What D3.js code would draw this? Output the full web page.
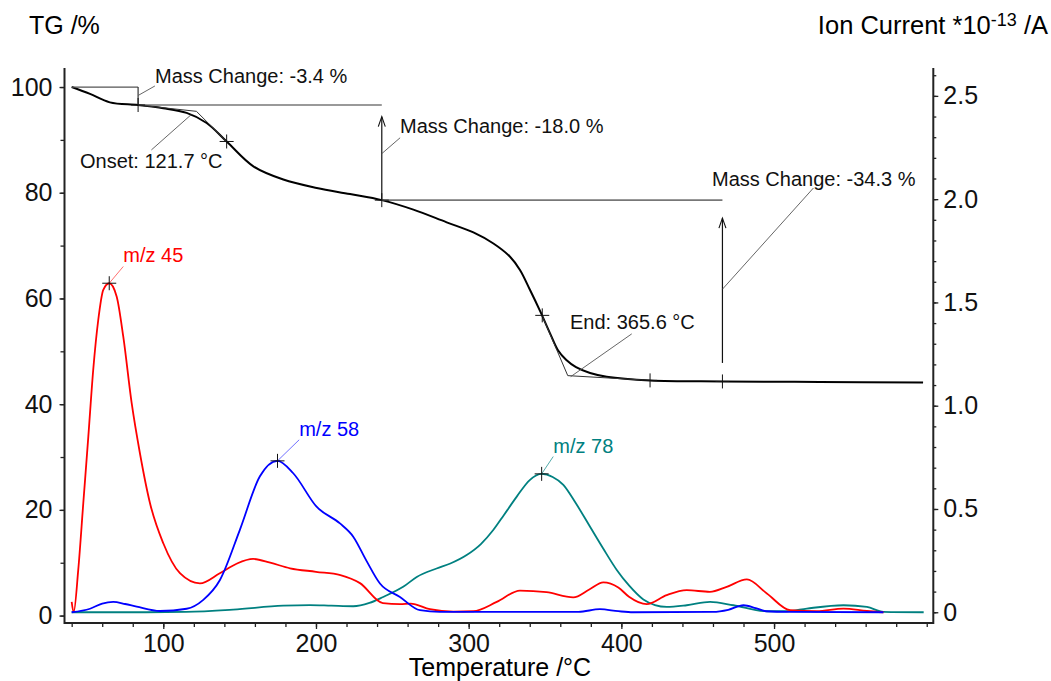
<!DOCTYPE html>
<html>
<head>
<meta charset="utf-8">
<script src="https://cdn.jsdelivr.net/npm/d3@7.9.0/dist/d3.min.js"></script>
<style>
  body { margin: 0; background: #fff; }
  svg { display: block; font-family: "Liberation Sans", Arial, sans-serif; }
</style>
</head>
<body>
<svg width="1051" height="681"></svg>
<script>
// TG curve, [temperature °C, mass %]
const tg = [[40,100],[52,98.7],[65,97.1],[83.5,96.6],[100,96.0],[115.3,95.1],[128.4,93.2],[141.5,89.7],
  [159,85.0],[178.6,82.5],[200.5,80.9],[222.3,79.75],[243.1,78.6],[263.8,76.8],[285.6,74.4],[303.1,72.5],
  [316.2,70.4],[327.1,67.9],[333.6,65.4],[340.2,61.6],[346.8,57.6],[353.3,53.4],[358.5,50.2],[363.8,48.4],
  [370.3,47.0],[379.5,45.9],[390.4,45.2],[418.8,44.5],[466.2,44.3],[530,44.2],[597.6,44.1]];

// ion currents, [temperature °C, current *1e-13 A]
const mz45 = [[40,0.05],[41.3,0],[44.3,0.205],[47.6,0.528],[50.9,0.85],[54.1,1.173],[57.4,1.415],[60.7,1.561],
  [64.6,1.593],[69.5,1.528],[73.8,1.334],[79.3,1.012],[84.7,0.77],[91.3,0.528],[100,0.334],[110.9,0.189],
  [124,0.14],[137,0.189],[148,0.235],[158.8,0.258],[170,0.24],[183,0.213],[200,0.196],[216,0.18],[228.8,0.141],
  [243.8,0.044],[255,0.039],[262,0.042],[274.6,0.015],[290,0.003],[303,0.005],[318.4,0.05],[333.6,0.105],
  [351,0.097],[368.5,0.072],[379,0.11],[388.2,0.145],[398,0.12],[405,0.075],[416.6,0.039],[429.7,0.083],
  [442.8,0.107],[458,0.099],[469,0.123],[482.2,0.159],[495.3,0.091],[510.5,0.01],[528,0.005],[545.5,0.018],
  [560.8,0.006],[571.7,0]];
const mz58 = [[40,0],[52,0.017],[60,0.042],[67.2,0.05],[75,0.04],[82.6,0.027],[97.8,0.006],[115.3,0.017],
  [126.2,0.06],[137.1,0.156],[150.1,0.398],[163.2,0.657],[174.8,0.733],[185.1,0.673],[200.4,0.511],
  [215.7,0.43],[224.4,0.366],[233,0.25],[241.9,0.139],[255,0.074],[268.1,0.01],[281.2,0.002],[300,0.002],[340,0.002],
  [372,0.002],[386,0.015],[398,0.005],[407.7,0],[460,0.002],[470,0.012],[480,0.034],[488,0.02],[495,0.005],
  [510,0.002],[571.6,0]];
const mz78 = [[40,0],[80,0],[115,0.002],[145.7,0.013],[178.5,0.032],[196,0.035],[210,0.032],[224.4,0.029],
  [235,0.045],[244,0.074],[257.1,0.123],[266,0.171],[279,0.212],[288,0.236],[298.7,0.277],[308,0.33],
  [316.1,0.398],[323,0.47],[331.5,0.56],[340,0.64],[347.8,0.67],[355,0.655],[362,0.617],[370,0.53],
  [379.5,0.414],[388,0.31],[397,0.205],[405,0.13],[414.4,0.062],[422,0.035],[429.7,0.026],[442.8,0.034],
  [458.1,0.05],[473.4,0.034],[495.3,0.005],[508.4,0.005],[521.5,0.018],[545.5,0.034],[560.8,0.026],
  [571.7,0.002],[598,0]];

const xTicks = [100, 200, 300, 400, 500];
const tgTicks = [0, 20, 40, 60, 80, 100];
const ionTicks = [0, 0.5, 1, 1.5, 2, 2.5];

const svg = d3.select('svg');
const pLeft = 64.5, pRight = 933.3, pTop = 68, pBottom = 623;

const x = d3.scaleLinear().domain([35.3, 604.3]).range([pLeft, pRight]);
const yL = d3.scaleLinear().domain([-1.4, 103.6]).range([pBottom, pTop]);
const yR = d3.scaleLinear().domain([-0.052, 2.635]).range([pBottom, pTop]);

const fs = 25;

// axes
const styleAxis = g => {
  g.select('.domain').remove();
  g.selectAll('line').attr('stroke', '#222').attr('stroke-width', 1.3);
  g.selectAll('text').attr('font-size', fs).attr('fill', '#111').attr('font-family', 'Liberation Sans, Arial');
};

svg.append('g').attr('transform', `translate(0,${pBottom})`)
  .call(d3.axisBottom(x).tickValues(d3.range(40, 601, 20)).tickFormat('').tickSize(4).tickSizeOuter(0)).call(styleAxis);
svg.append('g').attr('transform', `translate(0,${pBottom})`)
  .call(d3.axisBottom(x).tickValues(xTicks).tickSize(6).tickPadding(5).tickSizeOuter(0)).call(styleAxis);

svg.append('g').attr('transform', `translate(${pLeft},0)`)
  .call(d3.axisLeft(yL).tickValues(d3.range(0, 101, 10)).tickFormat('').tickSize(4).tickSizeOuter(0)).call(styleAxis);
svg.append('g').attr('transform', `translate(${pLeft},0)`)
  .call(d3.axisLeft(yL).tickValues(tgTicks).tickSize(5).tickPadding(7).tickSizeOuter(0)).call(styleAxis);

svg.append('g').attr('transform', `translate(${pRight},0)`)
  .call(d3.axisRight(yR).tickValues(d3.range(0, 27).map(d => d / 10)).tickFormat('').tickSize(3).tickSizeOuter(0)).call(styleAxis);
svg.append('g').attr('transform', `translate(${pRight},0)`)
  .call(d3.axisRight(yR).tickValues(ionTicks).tickFormat(d3.format('.1f')).tickSize(5).tickPadding(5).tickSizeOuter(0))
  .call(styleAxis)
  .call(g => g.selectAll('text').filter(d => d === 0).text('0'));

// frame: left, bottom, right
svg.append('path')
  .attr('d', `M${pLeft},${pTop}V${pBottom}H${pRight}V${pTop}`)
  .attr('fill', 'none').attr('stroke', '#222').attr('stroke-width', 2);

// axis titles
svg.append('text').attr('x', 29).attr('y', 34).attr('font-size', fs).text('TG /%');
const ionTitle = svg.append('text').attr('x', 1048).attr('y', 34).attr('font-size', 25.5).attr('text-anchor', 'end');
ionTitle.append('tspan').text('Ion Current *10');
ionTitle.append('tspan').attr('font-size', 18).attr('dy', -8).text('-13');
ionTitle.append('tspan').attr('dy', 8).text(' /A');
svg.append('text').attr('x', 500).attr('y', 676).attr('font-size', fs).attr('text-anchor', 'middle').text('Temperature /°C');

// curves
const lineL = d3.line().x(d => x(d[0])).y(d => yL(d[1])).curve(d3.curveCatmullRom.alpha(0.5));
const lineR = d3.line().x(d => x(d[0])).y(d => yR(d[1])).curve(d3.curveMonotoneX);

const series = [
  { data: mz78, color: '#008080' },
  { data: mz45, color: '#ff0000' },
  { data: mz58, color: '#0000ff' },
];
series.forEach(s => {
  svg.append('path').attr('d', lineR(s.data)).attr('fill', 'none')
    .attr('stroke', s.color).attr('stroke-width', 1.8);
});
svg.append('path').attr('d', lineL(tg)).attr('fill', 'none').attr('stroke', '#000').attr('stroke-width', 2);

// annotation helpers
const seg = (a, b, color, w) => svg.append('line')
  .attr('x1', x(a[0])).attr('y1', yL(a[1])).attr('x2', x(b[0])).attr('y2', yL(b[1]))
  .attr('stroke', color).attr('stroke-width', w);
const cross = (px, py) => svg.append('path')
  .attr('d', `M${px - 7},${py}H${px + 7}M${px},${py - 7}V${py + 7}`)
  .attr('stroke', '#111').attr('stroke-width', 1);
const label = (px, py, txt, color) => svg.append('text')
  .attr('x', px).attr('y', py).attr('font-size', 20).attr('fill', color || '#111').text(txt);
const arrow = (t, v0, v1) => {
  seg([t, v0], [t, v1], '#111', 1.2);
  const px = x(t), py = yL(v1);
  svg.append('path').attr('d', `M${px - 3.5},${py + 10}L${px},${py}L${px + 3.5},${py + 10}`)
    .attr('fill', 'none').attr('stroke', '#111').attr('stroke-width', 1.1);
};

// step 1: -3.4 %
seg([40, 100], [83.5, 100], '#555', 1.2);
seg([83.5, 100], [83.5, 96.6], '#333', 1.2);
seg([83.5, 96.6], [243.1, 96.6], '#777', 1.6);
seg([83.5, 98.4], [94.5, 100.2], '#555', 0.9);
label(155, 83, 'Mass Change: -3.4 %');

// onset
seg([83.5, 96.6], [121.7, 95.4], '#333', 1);
seg([121.7, 95.4], [141.5, 89.7], '#333', 1);
seg([118.4, 94.8], [92.2, 88.1], '#555', 0.9);
label(80, 168, 'Onset: 121.7 °C');

// step 2: -18.0 %
arrow(243.1, 78.6, 94.4);
seg([243.1, 87.4], [255.1, 90.4], '#555', 0.9);
label(400, 133, 'Mass Change: -18.0 %');
seg([243.1, 78.6], [466.2, 78.6], '#777', 1.6);

// step 3: -34.3 %
arrow(466.2, 47.8, 75.2);
seg([466.2, 61.75], [525.8, 80.9], '#555', 0.9);
label(712, 186, 'Mass Change: -34.3 %');

// end
seg([364.9, 45.4], [348.2, 56.7], '#333', 1);
seg([364.9, 45.4], [418.8, 44.5], '#333', 1);
seg([366.8, 45.2], [406.8, 53.3], '#555', 0.9);
label(570, 329, 'End: 365.6 °C');

// crosses on TG
[[83.5, 96.6], [141.5, 89.7], [243.1, 78.6], [348.2, 56.8], [418.8, 44.5], [466.2, 44.3]]
  .forEach(d => cross(x(d[0]), yL(d[1])));

// peak labels
const peaks = [
  { t: 64.6, v: 1.593, t2: 73.8, v2: 1.674, txt: 'm/z 45', color: '#ff0000', lead: '#ff6060' },
  { t: 174.8, v: 0.733, t2: 189, v2: 0.835, txt: 'm/z 58', color: '#0000ff', lead: '#6060ff' },
  { t: 347.8, v: 0.67, t2: 355.4, v2: 0.754, txt: 'm/z 78', color: '#008080', lead: '#40a0a0' },
];
peaks.forEach(p => {
  svg.append('line').attr('x1', x(p.t)).attr('y1', yR(p.v)).attr('x2', x(p.t2)).attr('y2', yR(p.v2))
    .attr('stroke', p.lead).attr('stroke-width', 0.9);
  cross(x(p.t), yR(p.v));
  label(x(p.t2), yR(p.v2) - 4, p.txt, p.color);
});
</script>
</body>
</html>
